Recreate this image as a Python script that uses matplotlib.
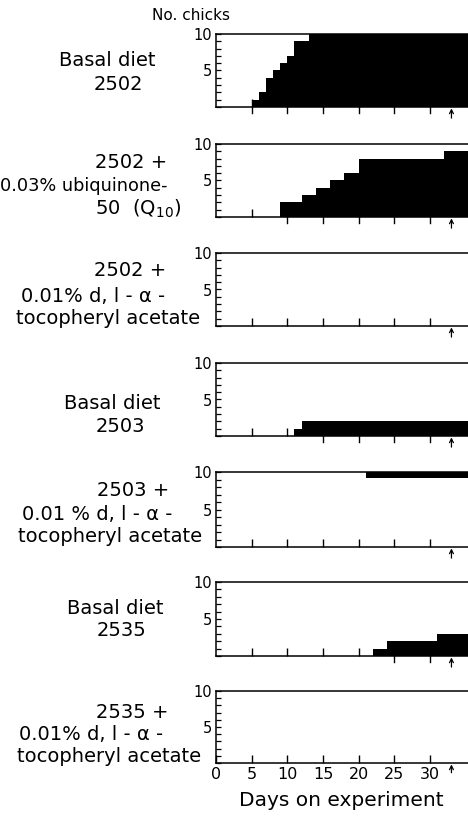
from __future__ import annotations

import matplotlib

matplotlib.use("Agg")
import matplotlib.pyplot as plt
import matplotlib.transforms as mtransforms

# cumulative number of affected chicks, as step changes (day, count)
days_2502 = [0, 5, 6, 7, 8, 9, 10, 11, 13]
chicks_2502 = [0, 1, 2, 4, 5, 6, 7, 9, 10]

days_2502_q10 = [0, 9, 12, 14, 16, 18, 20, 32]
chicks_2502_q10 = [0, 2, 3, 4, 5, 6, 8, 9]

days_2502_toc = [0]
chicks_2502_toc = [0]

days_2503 = [0, 11, 12]
chicks_2503 = [0, 1, 2]

days_2503_toc = [0]
chicks_2503_toc = [0]
band_start_2503_toc = 21  # bar along the top edge from this day on

days_2535 = [0, 22, 24, 31]
chicks_2535 = [0, 1, 2, 3]

days_2535_toc = [0]
chicks_2535_toc = [0]

arrow_day = 33
x_ticks = [0, 5, 10, 15, 20, 25, 30]
y_ticks = list(range(0, 11))
y_labels = {5: "5", 10: "10"}

# (text, centre x px, centre y px, font size)
panel_labels = [
    [("Basal diet", 107, 61, 14), ("2502", 118, 84, 14)],
    [("2502 +", 131, 162, 14), ("0.03% ubiquinone-", 84, 186, 12.8), (r"50  (Q$_{\mathregular{10}}$)", 138, 209, 14)],
    [("2502 +", 130, 270, 14), ("0.01% d, l - α -", 93, 297, 14), ("tocopheryl acetate", 108, 318, 14)],
    [("Basal diet", 112, 403, 14), ("2503", 120, 426, 14)],
    [("2503 +", 133, 490, 14), ("0.01 % d, l - α -", 97, 514, 14), ("tocopheryl acetate", 110, 536, 14)],
    [("Basal diet", 115, 608, 14), ("2535", 121, 630, 14)],
    [("2535 +", 132, 712, 14), ("0.01% d, l - α -", 91, 735, 14), ("tocopheryl acetate", 109, 757, 14)],
]

W, H = 468, 821
X_MAX = 35.6
panel_px = [(34, 107), (144, 217), (253, 326), (363, 436), (472, 547), (582, 656), (691, 763)]
AX_LEFT, AX_RIGHT = 216, 470


def count_at(days, counts, t):
    c = 0
    for d, n in zip(days, counts):
        if d <= t:
            c = n
    return c


def draw_panel(fig, top, bottom, days, counts, band_start=None, bottom_row=False):
    ax = fig.add_axes([AX_LEFT / W, 1 - bottom / H, (AX_RIGHT - AX_LEFT) / W, (bottom - top) / H])
    xs = list(days) + [X_MAX]
    ys = list(counts) + [counts[-1]]
    ax.fill_between(xs, 0, ys, step="post", color="black", linewidth=0)
    if band_start is not None:
        ax.fill_between([band_start, X_MAX], 9.25, 10, color="black", linewidth=0)

    ax.set_xlim(0, X_MAX)
    ax.set_ylim(0, 10)
    ax.spines["right"].set_visible(False)
    for s in ("left", "top", "bottom"):
        ax.spines[s].set_linewidth(1.1)

    ax.set_yticks(y_ticks)
    ax.set_yticklabels([y_labels.get(v, "") for v in y_ticks], fontsize=10.5)
    ax.tick_params(axis="y", direction="in", length=3.5, width=0.9, pad=3)

    ticks = x_ticks if bottom_row else x_ticks[1:]
    ax.set_xticks(ticks)
    if bottom_row:
        ax.set_xticklabels([str(t) for t in ticks], fontsize=11.5)
    else:
        ax.set_xticklabels([])
    ax.tick_params(axis="x", direction="in", length=6, width=1.0, pad=3)

    # where the fill covers the axis, the ticks hang below it instead
    trans = mtransforms.blended_transform_factory(ax.transData, ax.transAxes)
    h = 6 / (bottom - top)
    for t in x_ticks[1:]:
        if count_at(days, counts, t) > 0:
            ax.plot([t, t], [0, -h], color="black", lw=1.0, transform=trans, clip_on=False)

    ax.annotate("", xy=(arrow_day, 0), xycoords=trans,
                xytext=(0, -8 if not bottom_row else -7), textcoords="offset points",
                arrowprops=dict(arrowstyle="->", lw=0.9, color="black",
                                mutation_scale=7, shrinkA=0, shrinkB=1))
    return ax


def main():
    plt.rcParams["font.family"] = ["DejaVu Sans"]
    fig = plt.figure(figsize=(W / 100, H / 100), dpi=100)

    series = [
        (days_2502, chicks_2502, None),
        (days_2502_q10, chicks_2502_q10, None),
        (days_2502_toc, chicks_2502_toc, None),
        (days_2503, chicks_2503, None),
        (days_2503_toc, chicks_2503_toc, band_start_2503_toc),
        (days_2535, chicks_2535, None),
        (days_2535_toc, chicks_2535_toc, None),
    ]
    for i, ((top, bottom), (d, c, band)) in enumerate(zip(panel_px, series)):
        draw_panel(fig, top, bottom, d, c, band, bottom_row=(i == len(series) - 1))

    for lines in panel_labels:
        for text, x, y, fs in lines:
            fig.text(x / W, 1 - y / H, text, ha="center", va="center", fontsize=fs)

    fig.text(191 / W, 1 - 15 / H, "No. chicks", ha="center", va="center", fontsize=11)
    fig.text(341 / W, 1 - 800 / H, "Days on experiment", ha="center", va="center", fontsize=14.5)

    fig.savefig("out.png", dpi=100)
    plt.close(fig)


if __name__ == "__main__":
    main()
